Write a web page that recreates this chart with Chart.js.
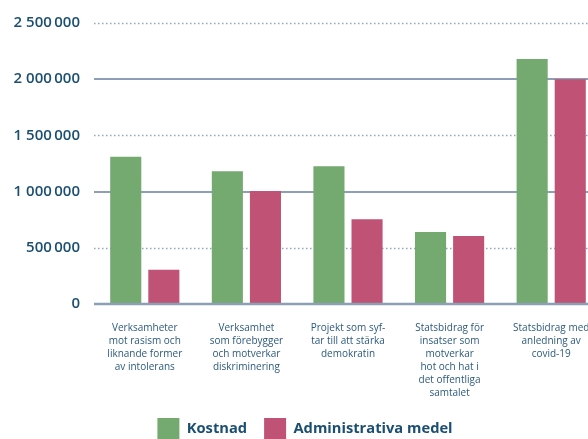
<!DOCTYPE html>
<html lang="sv">
<head>
<meta charset="utf-8">
<title>Kostnad och administrativa medel</title>
<script src="https://cdn.jsdelivr.net/npm/chart.js@4/dist/chart.umd.min.js"></script>
<style>
  html, body { margin: 0; padding: 0; background: #fff; overflow: hidden; }
  #wrap { position: absolute; left: 0; top: 0; width: 602px; height: 450px; }
</style>
</head>
<body>
<div id="wrap"><canvas id="chart"></canvas></div>
<script>
// Categories (multi-line, as wrapped in the original)
const categories = [
  ['Verksamheter', 'mot rasism och', 'liknande former', 'av intolerans'],
  ['Verksamhet', 'som förebygger', 'och motverkar', 'diskriminering'],
  ['Projekt som syf-', 'tar till att stärka', 'demokratin'],
  ['Statsbidrag för', 'insatser som', 'motverkar', 'hot och hat i', 'det offentliga', 'samtalet'],
  ['Statsbidrag med', 'anledning av', 'covid-19']
];

const kostnad = [1310000, 1180000, 1225000, 640000, 2180000];
const adminMedel = [305000, 1005000, 755000, 605000, 2000000];

const yTickLabels = ['0', '500\u2009000', '1 000\u2009000', '1 500\u2009000', '2 000\u2009000', '2 500\u2009000'];

const TEXT_DARK = '#1b4f72';
const GRID = '#8c9fb4';

// dotted half-step lines under the bars, solid zero line over them
const gridPlugin = {
  id: 'halfGrid',
  beforeDatasetsDraw(chart) {
    const { ctx, chartArea, scales } = chart;
    ctx.save();
    ctx.strokeStyle = '#8ea6c0';
    ctx.lineWidth = 1.5;
    ctx.setLineDash([1.5, 2.5]);
    [500000, 1500000, 2500000].forEach(v => {
      const y = Math.round(scales.y.getPixelForValue(v)) + 0.5;
      ctx.beginPath();
      ctx.moveTo(chartArea.left, y);
      ctx.lineTo(chartArea.right, y);
      ctx.stroke();
    });
    ctx.restore();
  },
  afterDatasetsDraw(chart) {
    const { ctx, chartArea, scales } = chart;
    const y = scales.y.getPixelForValue(0);
    ctx.save();
    ctx.strokeStyle = GRID;
    ctx.lineWidth = 2.5;
    ctx.beginPath();
    ctx.moveTo(chartArea.left, y);
    ctx.lineTo(chartArea.right, y);
    ctx.stroke();
    ctx.restore();
  }
};

new Chart(document.getElementById('chart'), {
  type: 'bar',
  data: {
    labels: categories,
    datasets: [
      {
        label: 'Kostnad',
        data: kostnad,
        backgroundColor: '#74a970',
        categoryPercentage: 0.75,
        barPercentage: 0.816
      },
      {
        label: 'Administrativa medel',
        data: adminMedel,
        backgroundColor: '#c05275',
        categoryPercentage: 0.75,
        barPercentage: 0.816
      }
    ]
  },
  options: {
    responsive: true,
    maintainAspectRatio: false,
    animation: false,
    layout: { padding: { top: 7, left: 8, right: 0, bottom: 0 } },
    plugins: {
      tooltip: { enabled: false },
      legend: {
        position: 'bottom',
        labels: {
          boxWidth: 22,
          boxHeight: 22,
          padding: 17,
          color: TEXT_DARK,
          font: { family: "'Open Sans', sans-serif", size: 14.7, weight: '700' }
        }
      }
    },
    scales: {
      x: {
        grid: { display: false },
        border: { display: false },
        afterFit: (scale) => { scale.height -= 9; },
        ticks: {
          color: '#2c5a7c',
          autoSkip: false,
          maxRotation: 0,
          padding: 10,
          font: { family: "'Open Sans', sans-serif", size: 10, lineHeight: 1.3 }
        }
      },
      y: {
        min: 0,
        max: 2500000,
        border: { display: false },
        afterFit: (scale) => { scale.width = 86; },
        grid: {
          drawTicks: false,
          lineWidth: 2,
          color: (c) => (c.tick && c.tick.value % 1000000 === 0 && c.tick.value > 0) ? GRID : 'rgba(0,0,0,0)'
        },
        ticks: {
          stepSize: 500000,
          padding: 14,
          color: TEXT_DARK,
          font: { family: "'Open Sans', sans-serif", size: 15, weight: '600' },
          callback: (value) => yTickLabels[Math.round(value / 500000)]
        }
      }
    }
  },
  plugins: [gridPlugin]
});
</script>
</body>
</html>
